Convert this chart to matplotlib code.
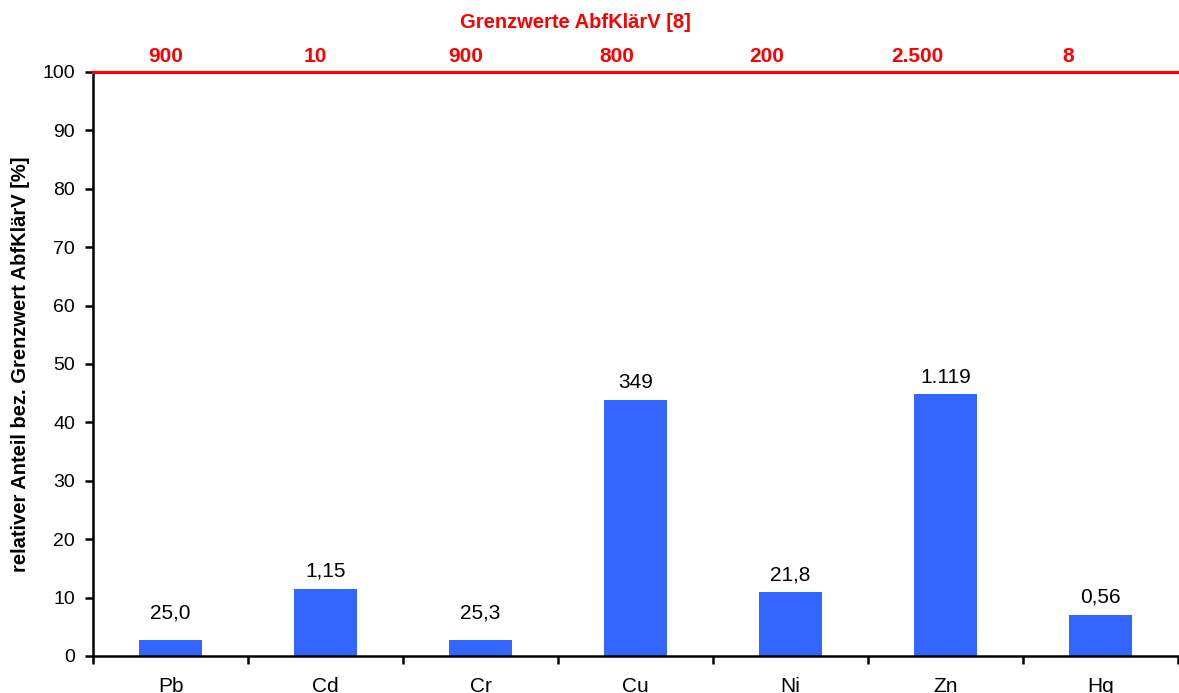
import matplotlib
matplotlib.use("Agg")
import matplotlib.pyplot as plt
from matplotlib.ticker import FixedLocator

plt.rcParams['font.family'] = ['Liberation Sans', 'DejaVu Sans']

categories = ["Pb", "Cd", "Cr", "Cu", "Ni", "Zn", "Hg"]
percent = [2.8, 11.5, 2.8, 43.8, 10.9, 44.9, 7.0]
value_labels = ["25,0", "1,15", "25,3", "349", "21,8", "1.119", "0,56"]
limit_labels = ["900", "10", "900", "800", "200", "2.500", "8"]
yticks = [0, 10, 20, 30, 40, 50, 60, 70, 80, 90, 100]

W, H = 1179, 693
fig = plt.figure(figsize=(W / 100, H / 100), dpi=100)
ax = fig.add_axes([93 / W, 1 - 656 / H, (1178 - 93) / W, (656 - 72) / H])

x = list(range(len(categories)))
ax.bar(x, percent, width=0.41, color="#3366FF", zorder=2)

label_offsets = [12, 6, 12, 6, 6, 5, 6]
for xi, p, lab, off in zip(x, percent, value_labels, label_offsets):
    ax.annotate(lab, (xi, p), xytext=(0, off), textcoords="offset points",
                ha="center", va="bottom", fontsize=15)

ax.set_xlim(-0.5, len(categories) - 0.5)
ax.set_ylim(0, 100)
ax.set_yticks(yticks)
ax.set_xticks(x)
ax.set_xticklabels(categories, fontsize=15)
ax.tick_params(axis="x", which="major", length=0, pad=15)
ax.xaxis.set_minor_locator(FixedLocator([i - 0.5 for i in range(len(categories) + 1)]))
ax.tick_params(axis="x", which="minor", length=6, width=1.8, direction="out")
ax.tick_params(axis="y", length=6, width=1.8, direction="out", labelsize=14, pad=7)

for s in ["left", "bottom"]:
    ax.spines[s].set_linewidth(1.8)
ax.spines["right"].set_visible(False)
ax.spines["top"].set_color("#FF0000")
ax.spines["top"].set_linewidth(2.2)

ax.set_ylabel("relativer Anteil bez. Grenzwert AbfKlärV [%]", fontsize=14.5,
              fontweight="bold", labelpad=9)

# top (red) axis: limit values, slightly different category spacing than the bottom
ax2 = ax.twiny()
ax2.set_xlim(-0.48, 6.733)
ax2.set_xticks(x)
ax2.set_xticklabels(limit_labels, color="#FF0000", fontweight="bold", fontsize=15)
ax2.tick_params(axis="x", length=0, pad=4)
for s in ["left", "bottom", "right"]:
    ax2.spines[s].set_visible(False)
ax2.spines["top"].set_color("#FF0000")
ax2.spines["top"].set_linewidth(2.2)

fig.text(575 / W, 1 - 22 / H, "Grenzwerte AbfKlärV [8]", color="#FF0000",
         fontweight="bold", fontsize=14.5, ha="center", va="center")

fig.savefig("out.png", dpi=100)
